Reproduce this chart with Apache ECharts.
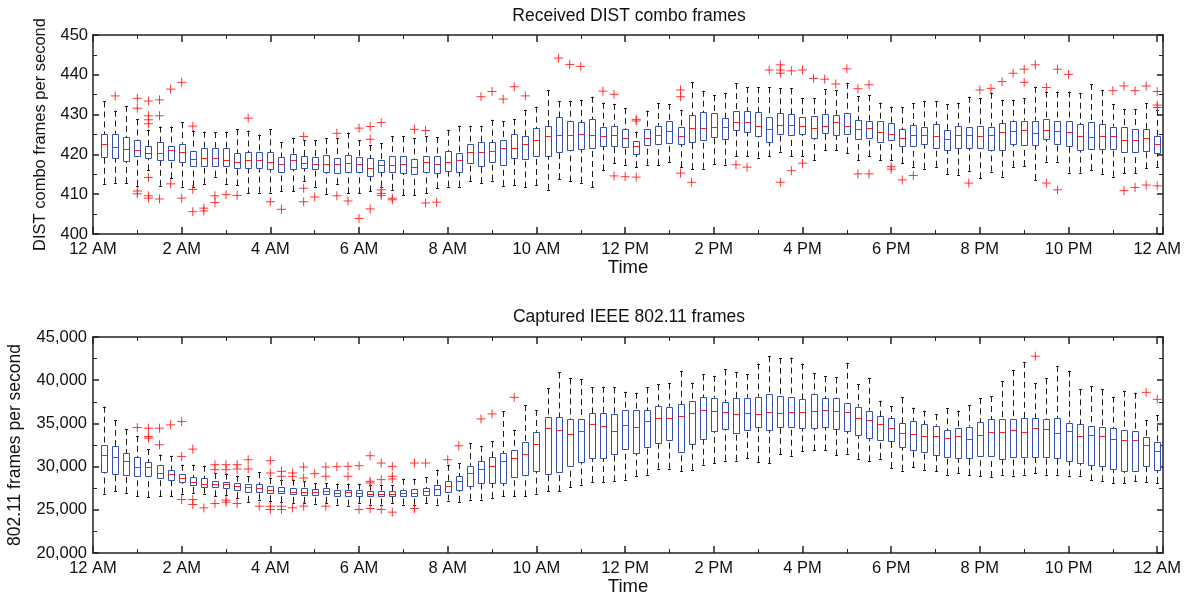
<!DOCTYPE html>
<html>
<head>
<meta charset="utf-8">
<script src="https://cdn.jsdelivr.net/npm/echarts@6/dist/echarts.min.js"></script>
<style>
  html, body { margin: 0; padding: 0; background: #fff; }
  #chart { width: 1192px; height: 592px; }
</style>
</head>
<body>
<div id="chart"></div>
<script>
// one box every 15 minutes, 00:15 .. 24:00
const slotHours = Array.from({ length: 96 }, (_, i) => (i + 1) / 4);

// Received DIST combo frames (frames per second)
const distHi = [
  433.3, 431.0, 432.2, 428.8, 426.2, 427.0, 427.0, 428.1, 426.0, 425.7,
  425.6, 425.7, 426.3, 426.0, 425.0, 426.3, 423.0, 424.2, 423.6, 423.6,
  424.1, 424.1, 425.5, 423.6, 422.4, 422.8, 424.6, 424.5, 424.0, 424.5,
  424.3, 426.2, 427.2, 427.2, 427.2, 428.7, 428.4, 428.8, 431.2, 432.0,
  436.2, 433.3, 433.5, 433.7, 434.5, 433.0, 432.7, 431.6, 425.7, 431.0,
  432.9, 432.7, 431.2, 438.1, 436.0, 434.9, 435.5, 437.9, 436.9, 436.9,
  436.9, 436.6, 436.6, 434.1, 434.1, 436.4, 436.2, 438.0, 434.7, 434.9,
  433.0, 432.0, 431.8, 432.9, 433.3, 433.3, 432.7, 433.0, 434.5, 434.1,
  435.5, 433.7, 433.7, 434.1, 437.0, 435.8, 435.8, 435.8, 435.5, 437.7,
  436.2, 432.7, 431.4, 431.4, 432.9, 431.2
];
const distQ3 = [
  425.1, 425.1, 424.3, 423.6, 422.1, 423.0, 422.1, 422.7, 420.9, 421.6,
  421.7, 421.6, 420.3, 420.6, 420.5, 420.5, 419.3, 420.2, 419.5, 419.4,
  419.9, 419.0, 419.9, 419.3, 419.0, 418.6, 419.7, 419.5, 418.8, 419.5,
  419.7, 420.9, 420.3, 422.7, 423.2, 423.0, 423.6, 425.1, 424.6, 426.6,
  427.2, 429.3, 428.3, 428.1, 428.8, 427.0, 427.2, 426.3, 423.3, 426.5,
  427.2, 428.4, 427.0, 429.8, 430.6, 430.3, 429.1, 430.9, 430.8, 430.6,
  429.3, 430.3, 430.1, 429.5, 429.7, 430.2, 430.0, 430.3, 428.6, 428.5,
  428.3, 427.8, 426.3, 427.4, 427.0, 427.6, 426.2, 427.2, 427.0, 427.2,
  427.0, 427.8, 428.5, 428.5, 428.5, 428.8, 428.5, 428.3, 427.6, 428.2,
  427.6, 427.0, 427.0, 426.3, 426.4, 424.5
];
const distMed = [
  422.6, 421.8, 421.4, 421.0, 420.3, 420.3, 421.0, 420.5, 418.8, 419.0,
  419.2, 418.5, 418.0, 418.6, 418.6, 418.0, 417.5, 418.7, 417.8, 417.5,
  417.5, 417.5, 417.8, 417.5, 416.6, 417.3, 417.4, 417.6, 416.9, 418.0,
  417.6, 418.1, 418.7, 420.6, 420.7, 420.9, 421.5, 421.5, 422.6, 423.6,
  424.5, 424.9, 424.9, 425.2, 424.8, 424.6, 424.8, 424.2, 422.0, 424.1,
  424.9, 425.9, 424.6, 426.6, 426.6, 426.8, 426.8, 428.1, 428.1, 427.2,
  426.3, 427.4, 427.4, 427.2, 426.7, 427.2, 428.1, 427.2, 426.3, 426.6,
  425.7, 425.1, 424.1, 424.9, 425.0, 424.5, 423.8, 424.9, 424.8, 424.6,
  424.9, 425.6, 425.9, 426.2, 425.3, 426.2, 425.9, 425.7, 424.6, 424.3,
  424.6, 424.5, 423.6, 423.6, 424.1, 422.6
];
const distQ1 = [
  419.3, 419.0, 418.4, 419.5, 419.0, 418.6, 418.6, 418.0, 417.1, 417.1,
  417.1, 417.0, 416.5, 416.6, 416.5, 416.4, 415.7, 416.3, 416.7, 416.4,
  415.7, 415.3, 415.5, 415.7, 414.6, 415.7, 415.6, 415.3, 415.1, 415.5,
  415.4, 415.9, 415.5, 417.8, 417.1, 418.0, 417.3, 419.1, 418.9, 419.6,
  419.5, 420.5, 421.0, 421.3, 421.5, 422.0, 422.2, 421.8, 420.0, 422.3,
  422.6, 422.8, 422.6, 423.2, 423.5, 424.3, 423.8, 426.2, 425.7, 424.5,
  423.2, 425.1, 424.9, 425.1, 424.1, 425.3, 424.9, 425.1, 423.9, 424.1,
  423.1, 423.6, 422.1, 422.2, 422.6, 421.7, 421.1, 421.5, 421.5, 421.5,
  421.1, 421.0, 422.6, 422.4, 422.4, 423.8, 422.6, 422.0, 421.0, 421.4,
  421.4, 421.4, 420.5, 420.5, 420.9, 420.3
];
const distLo = [
  412.6, 412.9, 412.8, 412.1, 416.0, 412.1, 414.0, 411.9, 411.9, 412.6,
  414.4, 412.6, 412.2, 410.2, 410.4, 410.4, 410.7, 410.7, 413.2, 411.9,
  410.1, 412.6, 410.2, 410.2, 410.7, 411.9, 411.1, 409.8, 409.8, 410.2,
  411.5, 411.9, 411.9, 413.2, 412.8, 413.4, 412.1, 412.3, 411.7, 412.3,
  411.1, 413.8, 413.2, 412.9, 411.8, 416.0, 417.8, 417.4, 416.8, 417.4,
  417.3, 418.1, 416.8, 416.3, 416.4, 417.5, 417.4, 419.5, 419.5, 419.2,
  419.5, 420.7, 419.6, 419.6, 418.6, 421.1, 421.1, 420.3, 418.6, 419.5,
  418.5, 418.6, 417.8, 416.9, 416.4, 416.9, 415.1, 414.9, 415.9, 414.0,
  415.7, 414.4, 416.9, 417.1, 413.6, 418.2, 418.2, 415.4, 415.4, 416.1,
  415.0, 414.4, 415.3, 415.3, 416.5, 416.9
];
// outliers: slot number (1..96) and value
const distOutSlot = [
  2, 4, 4, 4, 4, 5, 5, 5, 5, 5, 5, 5, 6, 6, 6, 7, 7, 8, 8, 9, 9, 9,
  10, 10, 11, 11, 12, 13, 14, 16, 17, 19, 19, 19, 20, 22, 22, 23, 24, 24,
  25, 25, 25, 26, 26, 26, 26, 27, 27, 29, 30, 30, 31, 35, 36, 37, 38, 39,
  42, 43, 44, 46, 47, 47, 48, 49, 49, 49, 53, 53, 53, 54, 58, 59, 61,
  62, 62, 62, 62, 63, 63, 64, 64, 65, 66, 67, 68, 69, 69, 70, 70, 72, 72,
  73, 74, 79, 80, 81, 82, 83, 84, 84, 85, 86, 86, 87, 87, 88, 92, 93, 93,
  94, 94, 95, 95, 96, 96, 96, 96
];
const distOutVal = [
  434.7, 434.1, 431.6, 410.8, 410.1, 433.4, 429.7, 428.7, 427.7, 414.2, 409.6, 409.0, 433.7, 429.7, 408.8, 436.4, 412.6, 438.1, 409.0, 427.1, 411.2, 405.6,
  406.5, 405.8, 409.6, 407.9, 409.9, 409.7, 429.1, 408.1, 406.2, 424.5, 411.5, 408.1, 409.3, 425.3, 409.6, 408.3, 426.6, 403.9,
  427.0, 423.8, 406.3, 428.0, 411.1, 410.2, 409.7, 409.0, 408.6, 426.3, 426.0, 407.8, 408.0, 434.5, 435.8, 433.9, 437.0, 434.7,
  444.2, 442.6, 442.1, 435.9, 435.1, 414.6, 414.4, 428.8, 428.4, 414.3, 436.2, 434.5, 415.3, 413.0, 417.4, 416.8, 441.2,
  442.5, 441.2, 440.4, 413.0, 441.0, 415.9, 441.2, 417.8, 439.1, 438.9, 437.7, 441.5, 436.5, 415.1, 437.5, 415.1, 416.9, 416.3,
  413.6, 414.7, 412.8, 436.2, 436.6, 438.3, 440.4, 441.4, 438.1, 442.5, 436.8, 412.8, 441.4, 411.1, 440.1, 436.0, 437.2, 410.9,
  436.0, 411.7, 437.2, 412.3, 435.8, 432.4, 431.8, 412.1
];

// Captured IEEE 802.11 frames (frames per second)
const ieeeHi = [
  36940, 35404, 34367, 33561, 32025, 31372, 31257, 30220, 30220, 30105,
  29260, 29184, 28953, 28876, 29337, 28684, 28492, 28492, 28300, 28108,
  28108, 28031, 28031, 28031, 27916, 27916, 27839, 28607, 28607, 28799,
  29644, 30220, 30412, 32716, 32409, 32908, 36441, 34252, 37132, 36556,
  39052, 40895, 40204, 40127, 39167, 39244, 39167, 38668, 38553, 39167,
  39513, 39628, 41087, 39705, 40665, 40511, 41241, 40972, 40703, 41932,
  42777, 42585, 42623, 41932, 40780, 40473, 40319, 42009, 39551, 40281,
  37631, 37017, 38015, 36825, 36479, 36057, 36748, 36479, 37132, 37900,
  38169, 39897, 41164, 42124, 39628, 40204, 41663, 41087, 38937, 39321,
  38937, 38092, 38783, 38553, 35404, 35942
];
const ieeeQ3 = [
  32447, 32409, 31564, 31065, 30527, 30143, 29644, 29184, 28799, 28684,
  28377, 28223, 28108, 28031, 27954, 27801, 27647, 27570, 27494, 27417,
  27532, 27340, 27340, 27264, 27225, 27148, 27187, 27340, 27417, 27532,
  27916, 28300, 28876, 30105, 30604, 31103, 31564, 31948, 32793, 34060,
  35788, 35711, 35481, 35558, 36172, 36172, 36057, 36556, 36518, 36556,
  37017, 36940, 37247, 37593, 38054, 37977, 37516, 37938, 37977, 38092,
  38361, 38207, 38092, 37785, 38361, 37900, 37900, 37324, 36940, 36479,
  35865, 35596, 35020, 35289, 34905, 34751, 34252, 34521, 34636, 35135,
  35481, 35481, 35481, 35596, 35596, 35481, 35596, 35097, 34905, 34751,
  34636, 34444, 34252, 34137, 33407, 32793
];
const ieeeMed = [
  31334, 31103, 30604, 29990, 29913, 29260, 29145, 28684, 28223, 28031,
  28031, 27993, 27801, 27647, 27532, 27264, 27187, 27071, 27071, 27110,
  27148, 26956, 27033, 26956, 26879, 26841, 26879, 26956, 26956, 27225,
  27417, 27801, 28377, 29260, 29759, 30105, 30604, 30988, 31449, 32639,
  34444, 34252, 33791, 34137, 34905, 34751, 34175, 34866, 34636, 35289,
  35596, 35673, 35826, 36172, 36595, 36479, 36287, 36095, 36249, 36095,
  36326, 36249, 36287, 36364, 36479, 36518, 36441, 36326, 35634, 35365,
  34943, 34444, 33945, 33791, 33561, 33484, 33331, 33599, 33177, 33676,
  34060, 34060, 34252, 34060, 34444, 34367, 33945, 34137, 33484, 33637,
  33484, 33177, 33100, 33023, 32524, 31756
];
const ieeeQ1 = [
  29375, 29184, 28991, 28953, 28876, 28646, 28415, 28223, 27877, 27686,
  27609, 27532, 27264, 27110, 27071, 26956, 26956, 26841, 26726, 26726,
  26803, 26649, 26649, 26649, 26572, 26572, 26572, 26572, 26649, 26687,
  26764, 27033, 27340, 27724, 28108, 28108, 28108, 28761, 28991, 29529,
  29184, 29375, 30028, 30566, 30988, 30988, 31487, 32025, 31564, 32255,
  32716, 33023, 31641, 32639, 33215, 34137, 34329, 33868, 34252, 34559,
  34252, 34559, 34636, 34444, 34444, 34636, 34367, 34175, 33637, 33292,
  33023, 32908, 32217, 31948, 31641, 31372, 31103, 30988, 30988, 31180,
  31257, 30911, 31103, 31065, 31103, 31103, 30988, 30681, 30412, 30220,
  30028, 29721, 29452, 29529, 30028, 29567
];
const ieeeLo = [
  26879, 27148, 26956, 26572, 26457, 26572, 26572, 26841, 26956, 26879,
  26572, 26687, 26380, 25919, 26188, 25996, 25881, 25804, 25804, 25727,
  25804, 25612, 25497, 25804, 25612, 25612, 25804, 25612, 25612, 25804,
  25612, 26073, 25919, 26188, 26188, 26380, 26572, 26572, 26572, 26879,
  27148, 27148, 27647, 27916, 28223, 28223, 28300, 28492, 28953, 29068,
  29759, 29759, 29452, 29644, 30220, 30412, 30681, 30681, 30988, 30527,
  30412, 31449, 31257, 31756, 31871, 31871, 31295, 31487, 30911, 30604,
  30911, 29836, 29529, 29913, 29644, 29452, 29068, 29260, 29030, 28876,
  28799, 29068, 28953, 29068, 29260, 29068, 29068, 28953, 28953, 28415,
  28300, 28108, 28108, 28300, 28223, 28108
];
const ieeeOutSlot = [
  4, 5, 5, 5, 6, 6, 7, 8, 8, 8, 9, 9, 9, 10, 11, 11, 11, 12, 12, 12, 12,
  13, 13, 13, 14, 14, 15, 16, 16, 16, 16, 17, 17, 17, 17, 18, 18, 18,
  19, 19, 19, 20, 21, 21, 21, 22, 23, 23, 24, 24, 25, 25, 25, 25,
  26, 26, 26, 27, 27, 27, 27, 29, 29, 30, 32, 33, 35, 36, 38, 85, 95, 96
];
const ieeeOutVal = [
  34521, 34444, 33484, 33292, 34444, 32524, 34828, 35212, 31180, 26188, 32025, 26188, 25612, 25228, 30220, 29644, 25727, 30220, 29644, 26111, 25881,
  30220, 29721, 25727, 30796, 29721, 25420, 30681, 29260, 25420, 25036, 29452, 28876, 25420, 25036, 29260, 28876, 25228,
  29951, 28684, 25420, 29184, 29951, 28876, 25420, 29989, 30028, 28876, 30105, 25036, 31257, 28300, 28108, 25151,
  30412, 28492, 25036, 30028, 28876, 28569, 24729, 30412, 25151, 30412, 30796, 32409, 35519, 36095, 38015, 42777, 38591, 37785
];

const FONT = '"Liberation Sans", Arial, Helvetica, sans-serif';
const AXIS_COLOR = '#222';
const BOX_COLOR = '#3451b2';
const RED = '#ff1f1f';

function boxRows(hi, q3, med, q1, lo) {
  return slotHours.map((h, i) => [h, lo[i], q1[i], med[i], q3[i], hi[i]]);
}

function outlierRows(slots, vals) {
  return slots.map((s, i) => [slotHours[s - 1], vals[i]]);
}

function renderBox(params, api) {
  const x = api.value(0);
  const pLo = api.coord([x, api.value(1)]);
  const pQ1 = api.coord([x, api.value(2)]);
  const pMed = api.coord([x, api.value(3)]);
  const pQ3 = api.coord([x, api.value(4)]);
  const pHi = api.coord([x, api.value(5)]);
  const cx = Math.round(pMed[0]) + 0.5;
  const half = 3;
  const whisker = { stroke: '#1c1c1c', lineWidth: 1, lineDash: [6, 4] };
  const cap = { stroke: '#1c1c1c', lineWidth: 1 };
  return {
    type: 'group',
    children: [
      { type: 'line', shape: { x1: cx, y1: pHi[1], x2: cx, y2: pQ3[1] }, style: whisker },
      { type: 'line', shape: { x1: cx, y1: pLo[1], x2: cx, y2: pQ1[1] }, style: whisker },
      { type: 'line', shape: { x1: cx - 1.5, y1: Math.round(pHi[1]) + 0.5, x2: cx + 1.5, y2: Math.round(pHi[1]) + 0.5 }, style: cap },
      { type: 'line', shape: { x1: cx - 1.5, y1: Math.round(pLo[1]) + 0.5, x2: cx + 1.5, y2: Math.round(pLo[1]) + 0.5 }, style: cap },
      {
        type: 'rect',
        shape: { x: cx - half, y: Math.round(pQ3[1]) + 0.5, width: half * 2, height: Math.round(pQ1[1]) - Math.round(pQ3[1]) },
        style: { fill: '#fff', stroke: BOX_COLOR, lineWidth: 1 }
      },
      { type: 'line', shape: { x1: cx - half, y1: Math.round(pMed[1]) + 0.5, x2: cx + half, y2: Math.round(pMed[1]) + 0.5 }, style: { stroke: RED, lineWidth: 1 } }
    ]
  };
}

function hourLabel(v) {
  if (Math.abs(v - Math.round(v)) > 1e-6 || Math.round(v) % 2) return '';
  const h = Math.round(v) % 24;
  const hr = h % 12 === 0 ? 12 : h % 12;
  return hr + (h < 12 ? ' AM' : ' PM');
}

function timeAxis(gridIndex, position) {
  const bottom = position === 'bottom';
  return {
    type: 'value',
    gridIndex,
    position,
    min: 0,
    max: 24.13,
    interval: 2,
    name: bottom ? 'Time' : '',
    nameLocation: 'middle',
    nameGap: 17,
    nameTextStyle: { fontFamily: FONT, fontSize: 18.5, color: '#111' },
    axisLine: { show: true, onZero: false, lineStyle: { color: AXIS_COLOR, width: 1.5 } },
    axisTick: { show: true, inside: true, length: 7, lineStyle: { color: AXIS_COLOR, width: 1.5 } },
    minorTick: { show: true, splitNumber: 2, length: 4, lineStyle: { color: AXIS_COLOR, width: 1 } },
    axisLabel: { show: bottom, formatter: hourLabel, fontFamily: FONT, fontSize: 16.5, color: '#111', margin: 7 },
    splitLine: { show: false }
  };
}

function valueAxis(gridIndex, position, min, max, interval, name, nameGap, nameSize, formatter, margin) {
  const left = position === 'left';
  return {
    type: 'value',
    gridIndex,
    position,
    min,
    max,
    interval,
    name: left ? name : '',
    nameLocation: 'middle',
    nameRotate: 90,
    nameGap,
    nameTextStyle: { fontFamily: FONT, fontSize: nameSize, color: '#111' },
    axisLine: { show: true, onZero: false, lineStyle: { color: AXIS_COLOR, width: 1.5 } },
    axisTick: { show: true, inside: true, length: 6, lineStyle: { color: AXIS_COLOR, width: 1.5 } },
    minorTick: { show: true, splitNumber: 2, length: 4, lineStyle: { color: AXIS_COLOR, width: 1 } },
    axisLabel: { show: left, formatter, fontFamily: FONT, fontSize: 16.5, color: '#111', margin },
    splitLine: { show: false }
  };
}

const plusSymbol = 'path://M0 5L10 5M5 0L5 10';

function outlierSeries(axisIndex, data) {
  return {
    type: 'scatter',
    xAxisIndex: axisIndex,
    yAxisIndex: axisIndex,
    symbol: plusSymbol,
    symbolSize: 9,
    silent: true,
    itemStyle: { color: 'rgba(0,0,0,0)', borderColor: RED, borderWidth: 1, opacity: 0.9 },
    data,
    z: 3
  };
}

const chart = echarts.init(document.getElementById('chart'), null, { renderer: 'canvas' });

chart.setOption({
  animation: false,
  backgroundColor: '#fff',
  grid: [
    { left: 93, right: 29, top: 35, height: 199, outerBoundsMode: 'none' },
    { left: 93, right: 29, top: 337, height: 216, outerBoundsMode: 'none' }
  ],
  xAxis: [
    timeAxis(0, 'bottom'),
    timeAxis(1, 'bottom'),
    timeAxis(0, 'top'),
    timeAxis(1, 'top')
  ],
  yAxis: [
    valueAxis(0, 'left', 400, 450, 10, 'DIST combo frames per second', 44, 16.5, v => String(v), 5),
    valueAxis(1, 'left', 20000, 45000, 5000, '802.11 frames per second', 69, 17.5, v => v.toLocaleString('en-US'), 6),
    valueAxis(0, 'right', 400, 450, 10, '', 0, 16.5, v => String(v), 5),
    valueAxis(1, 'right', 20000, 45000, 5000, '', 0, 16.5, v => String(v), 5)
  ],
  graphic: [
    { type: 'text', x: 629, y: 16, style: { text: 'Received DIST combo frames', font: '17.5px ' + FONT, fill: '#111', textAlign: 'center', textVerticalAlign: 'middle' } },
    { type: 'text', x: 629, y: 317, style: { text: 'Captured IEEE 802.11 frames', font: '17.5px ' + FONT, fill: '#111', textAlign: 'center', textVerticalAlign: 'middle' } }
  ],
  series: [
    {
      type: 'custom',
      xAxisIndex: 0,
      yAxisIndex: 0,
      renderItem: renderBox,
      encode: { x: 0, y: [1, 2, 3, 4, 5] },
      data: boxRows(distHi, distQ3, distMed, distQ1, distLo),
      silent: true,
      z: 2
    },
    {
      type: 'custom',
      xAxisIndex: 1,
      yAxisIndex: 1,
      renderItem: renderBox,
      encode: { x: 0, y: [1, 2, 3, 4, 5] },
      data: boxRows(ieeeHi, ieeeQ3, ieeeMed, ieeeQ1, ieeeLo),
      silent: true,
      z: 2
    },
    outlierSeries(0, outlierRows(distOutSlot, distOutVal)),
    outlierSeries(1, outlierRows(ieeeOutSlot, ieeeOutVal))
  ]
});
</script>
</body>
</html>
